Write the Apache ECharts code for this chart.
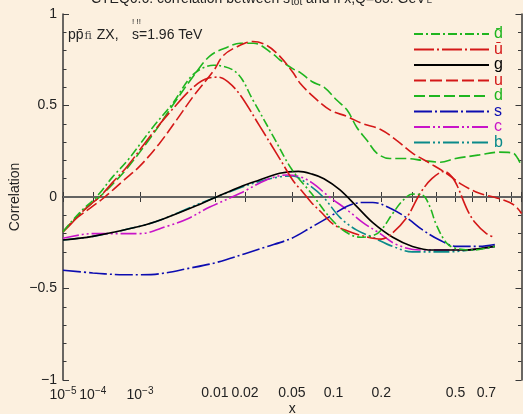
<!DOCTYPE html>
<html><head><meta charset="utf-8">
<script src="https://cdn.jsdelivr.net/npm/echarts@6/dist/echarts.min.js"></script>
<style>html,body{margin:0;padding:0;background:#fcf0df;}#c{width:523px;height:414px;}</style>
</head><body><div id="c"></div>
<script>
// ---- data (x, correlation) ----
const dbar = [[1e-5,-0.19],[2e-5,-0.14],[5e-5,-0.07],[1e-4,-0.02],[1.5e-4,0.02],[3e-4,0.11],[6e-4,0.2],[1.6e-3,0.38],[3.1e-3,0.51],[5.7e-3,0.67],[0.0097,0.72],[0.0166,0.68],[0.0236,0.53],[0.0355,0.33],[0.05,0.15],[0.07,0.02],[0.094,-0.11],[0.12,-0.19],[0.15,-0.22],[0.18,-0.21],[0.2,-0.18],[0.233,-0.09],[0.265,-0.02],[0.3,0.016],[0.34,0.01],[0.37,-0.05],[0.4,-0.15],[0.45,-0.25],[0.5,-0.28],[0.6,-0.29],[0.7,-0.28],[0.764,-0.27]];
const ubar = [[1e-5,-0.19],[2e-5,-0.15],[5e-5,-0.08],[1e-4,-0.03],[1.5e-4,0.0],[3e-4,0.08],[6e-4,0.17],[1.6e-3,0.35],[3.1e-3,0.48],[5.7e-3,0.6],[0.0085,0.65],[0.011,0.655],[0.0136,0.63],[0.0179,0.56],[0.027,0.39],[0.04,0.21],[0.051,0.09],[0.06,0.03],[0.07,-0.03],[0.084,-0.09],[0.1,-0.15],[0.123,-0.185],[0.15,-0.21],[0.2,-0.23],[0.23,-0.2],[0.28,-0.11],[0.33,0.02],[0.38,0.1],[0.44,0.14],[0.48,0.11],[0.51,0.06],[0.57,-0.07],[0.62,-0.14],[0.7,-0.2],[0.764,-0.22]];
const glu = [[1e-5,-0.235],[1e-4,-0.215],[1e-3,-0.16],[2.3e-3,-0.12],[5.7e-3,-0.055],[0.0104,0.0],[0.0179,0.055],[0.027,0.093],[0.04,0.13],[0.056,0.14],[0.071,0.125],[0.086,0.1],[0.11,0.04],[0.141,-0.05],[0.178,-0.14],[0.233,-0.22],[0.3,-0.27],[0.385,-0.29],[0.543,-0.29],[0.764,-0.27]];
const uq = [[1e-5,-0.19],[3e-5,-0.12],[1e-4,-0.05],[2e-4,0.0],[5e-4,0.09],[1e-3,0.17],[2e-3,0.29],[3.5e-3,0.42],[5.7e-3,0.55],[0.0097,0.69],[0.0121,0.77],[0.0166,0.82],[0.0236,0.85],[0.031,0.83],[0.04,0.77],[0.051,0.68],[0.058,0.62],[0.072,0.55],[0.095,0.475],[0.123,0.44],[0.155,0.4],[0.197,0.37],[0.245,0.31],[0.3,0.24],[0.37,0.185],[0.45,0.13],[0.54,0.066],[0.65,0.02],[0.78,-0.005],[0.89,-0.03],[0.95,-0.055],[1.0,-0.09]];
const dq = [[1e-5,-0.19],[2e-5,-0.145],[5e-5,-0.08],[1e-4,-0.03],[1.5e-4,0.0],[3e-4,0.07],[6e-4,0.16],[1.6e-3,0.34],[3.1e-3,0.5],[5.7e-3,0.66],[0.0088,0.77],[0.0136,0.82],[0.018,0.84],[0.024,0.84],[0.0355,0.78],[0.04,0.75],[0.051,0.7],[0.058,0.68],[0.071,0.63],[0.086,0.6],[0.105,0.53],[0.123,0.475],[0.142,0.38],[0.164,0.31],[0.188,0.24],[0.224,0.21],[0.28,0.21],[0.34,0.2],[0.42,0.19],[0.5,0.21],[0.65,0.23],[0.8,0.245],[0.92,0.24],[0.965,0.21],[0.99,0.18]];
const sq = [[1e-5,-0.4],[1e-4,-0.415],[2e-4,-0.42],[5e-4,-0.425],[1e-3,-0.425],[2e-3,-0.42],[5e-3,-0.39],[0.01,-0.36],[0.02,-0.31],[0.03,-0.275],[0.05,-0.225],[0.07,-0.165],[0.1,-0.095],[0.123,-0.05],[0.155,-0.03],[0.178,-0.03],[0.224,-0.06],[0.28,-0.115],[0.34,-0.18],[0.416,-0.235],[0.507,-0.27],[0.65,-0.27],[0.764,-0.26]];
const cq = [[1e-5,-0.225],[5e-5,-0.205],[1e-4,-0.2],[1e-3,-0.2],[2.6e-3,-0.16],[4.8e-3,-0.12],[8.8e-3,-0.055],[0.018,0.02],[0.031,0.093],[0.0455,0.12],[0.058,0.11],[0.071,0.077],[0.094,0.0],[0.123,-0.07],[0.155,-0.14],[0.197,-0.2],[0.245,-0.26],[0.33,-0.29],[0.54,-0.29],[0.764,-0.27]];
const bq = [[1e-5,-0.235],[1e-4,-0.215],[1e-3,-0.16],[2.3e-3,-0.12],[5.7e-3,-0.05],[0.0104,0.0],[0.018,0.05],[0.027,0.085],[0.04,0.11],[0.051,0.115],[0.064,0.077],[0.085,0.0],[0.11,-0.11],[0.141,-0.18],[0.178,-0.22],[0.233,-0.27],[0.3,-0.3],[0.45,-0.3],[0.764,-0.27]];

const seriesNames = ['d\u0304','u\u0304','g','u','d','s','c','b'];
const xTicks = [1e-5,1e-4,1e-3,0.01,0.02,0.05,0.1,0.2,0.3,0.4,0.5,0.6,0.7,0.8,0.9,1];
const xLabelValues = [1e-5,1e-4,1e-3,0.01,0.02,0.05,0.1,0.2,0.5,0.7];
const xLabelText = ['10^−5','10^−4','10^−3','0.01','0.02','0.05','0.1','0.2','0.5','0.7'];

// ---- styles ----
const FONT = 'Liberation Sans, Arial, Helvetica, sans-serif';
const GREEN = '#1fb51f', RED = '#d41818', BLUE = '#0c0cb0', MAG = '#c814c8', TEAL = '#0a8a8a';
const styles = [
  {data: dbar, color: GREEN, type: [9,3,2,3]},
  {data: ubar, color: RED, type: [20,3,2,3]},
  {data: glu, color: '#000', type: 'solid'},
  {data: uq, color: RED, type: [12,4]},
  {data: dq, color: GREEN, type: [11,4]},
  {data: sq, color: BLUE, type: [18,3,2,3]},
  {data: cq, color: MAG, type: [16,3,2,3,2,3]},
  {data: bq, color: TEAL, type: [16,3,2,3,2,3]}
];
const P = 0.2;
const tr = x => Math.pow(x, P);

const series = styles.map((s, i) => ({
  name: seriesNames[i],
  type: 'line',
  xAxisIndex: 0, yAxisIndex: 0,
  data: s.data.map(p => [tr(p[0]), p[1]]),
  showSymbol: false, symbol: 'none',
  smooth: 0.35,
  z: 3 + (8 - i),
  lineStyle: {color: s.color, width: 1.6, type: s.type},
  itemStyle: {color: s.color},
  emphasis: {disabled: true},
  animation: false
}));
series[2].markLine = {
  silent: true, symbol: 'none', animation: false,
  label: {show: false},
  lineStyle: {color: '#6e6e6e', width: 1.5, type: 'solid'},
  data: [{yAxis: 0}],
  z: 1
};

const tickT = xTicks.map(tr);
const labelT = xLabelValues.map(tr);
function xFmt(v) {
  let best = 0, bd = 1e9;
  labelT.forEach((t, i) => { const d = Math.abs(t - v); if (d < bd) { bd = d; best = i; } });
  const s = xLabelText[best];
  if (s.indexOf('^') >= 0) { const p = s.split('^'); return '{b|' + p[0] + '}{sup|' + p[1] + '}'; }
  return '{b|' + s + '}';
}
const yFmt = v => (v < 0 ? '\u2212' + (-v) : String(v));

const axisLine = {show: true, lineStyle: {color: '#383838', width: 1.5}};
const tickStyle = {color: '#383838', width: 1};

const chart = echarts.init(document.getElementById('c'), null, {renderer: 'canvas'});
chart.setOption({
  backgroundColor: '#fcf0df',
  animation: false,
  textStyle: {fontFamily: FONT},
  grid: {left: 63, right: 1.5, top: 14, bottom: 34, containLabel: false, outerBoundsMode: 'none'},
  legend: {
    orient: 'vertical', left: 413, top: 26, padding: 0,
    itemWidth: 75, itemHeight: 12, itemGap: -0.5,
    selectedMode: false,
    itemStyle: {opacity: 0},
    textStyle: {fontSize: 16, fontFamily: FONT, lineHeight: 14},
    data: seriesNames.map((n, i) => ({name: n, textStyle: {color: styles[i].color}}))
  },
  xAxis: [
    {type: 'value', position: 'bottom', min: tr(1e-5), max: 1,
     axisLine, splitLine: {show: false},
     axisTick: {show: true, inside: true, length: 5, customValues: tickT, lineStyle: tickStyle},
     axisLabel: {show: true, customValues: labelT, formatter: xFmt, margin: 6, color: '#222',
       rich: {b: {fontSize: 14, fontFamily: FONT, color: '#222'},
              sup: {fontSize: 10, fontFamily: FONT, color: '#222', padding: [0, 0, 9, 0]}}},
     name: 'x', nameLocation: 'middle', nameGap: 22, nameMoveOverlap: false,
     nameTextStyle: {fontSize: 14, color: '#222', fontFamily: FONT}},
    {type: 'value', position: 'top', min: tr(1e-5), max: 1,
     axisLine, splitLine: {show: false},
     axisTick: {show: true, inside: true, length: 5, customValues: tickT, lineStyle: tickStyle},
     axisLabel: {show: false}}
  ],
  yAxis: [
    {type: 'value', position: 'left', min: -1, max: 1, interval: 0.5,
     axisLine, splitLine: {show: false},
     axisTick: {show: true, inside: true, length: 6, lineStyle: tickStyle},
     minorTick: {show: true, splitNumber: 5, length: 3.5, lineStyle: tickStyle},
     axisLabel: {formatter: yFmt, fontSize: 14, color: '#222', margin: 6, fontFamily: FONT},
     name: 'Correlation', nameLocation: 'middle', nameGap: 41, nameMoveOverlap: false,
     nameTextStyle: {fontSize: 14, color: '#222', fontFamily: FONT}},
    {type: 'value', position: 'right', min: -1, max: 1, interval: 0.5,
     axisLine, splitLine: {show: false},
     axisTick: {show: true, inside: true, length: 6, lineStyle: tickStyle},
     minorTick: {show: true, splitNumber: 5, length: 3.5, lineStyle: tickStyle},
     axisLabel: {show: false}}
  ],
  graphic: [
    {type: 'text', left: 'center', top: -8, z: 10,
     style: {text: '{a|CTEQ6.6: correlation between s}{sub|tot}{a| and fi x,Q=85. GeV}{l|L}',
       rich: {a: {fontSize: 14, fontFamily: FONT, fill: '#222'},
              sub: {fontSize: 10, fontFamily: FONT, fill: '#222', padding: [7, 0, 0, 1]},
              l: {fontSize: 10, fontFamily: FONT, fill: '#444', padding: [3, 0, 0, 1]}}}},
    {type: 'text', left: 68, top: 28, z: 10,
     style: {text: '{a|pp\u0304}{f|fi}{a| ZX,}',
       rich: {a: {fontSize: 14, fontFamily: FONT, fill: '#222'},
              f: {fontSize: 11, fontFamily: 'DejaVu Serif, serif', fill: '#444', padding: [2, 1, 0, 1]}}}},
    {type: 'text', left: 132, top: 28, z: 10,
     style: {text: 's=1.96 TeV', fontSize: 14, fontFamily: FONT, fill: '#222'}},
    {type: 'text', left: 132, top: 18, z: 10,
     style: {text: '! !!', fontSize: 8, fontFamily: FONT, fill: '#222'}}
  ],
  series
});
</script></body></html>
